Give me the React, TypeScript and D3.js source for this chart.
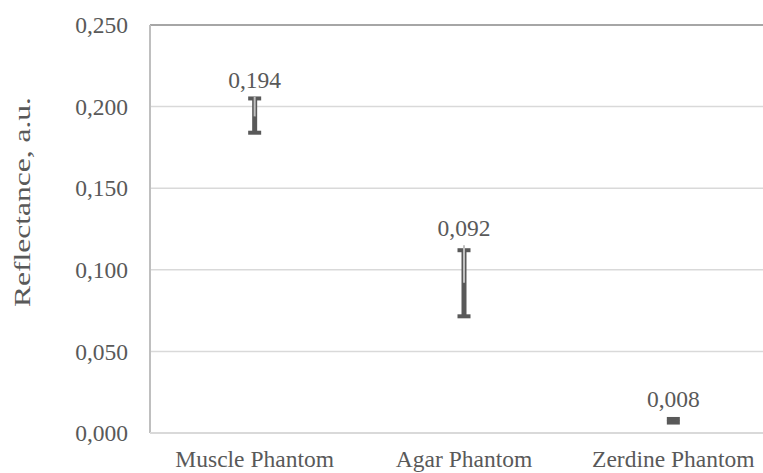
import React from 'react';
import * as d3 from 'd3';

const categories = ['Muscle Phantom', 'Agar Phantom', 'Zerdine Phantom'];
const means = [0.194, 0.092, 0.008];
const highs = [0.205, 0.112, 0.0086];
const lows = [0.184, 0.0715, 0.0064];
const uppers = [0.206, 0.115, 0.0105];
const yTicks = [0, 0.05, 0.1, 0.15, 0.2, 0.25];

const W = 763;
const H = 473;
const margin = { top: 25, left: 150, bottom: 40 };
const plotRight = 778; // plot area runs past the picture's right edge
const font = '"Liberation Serif", "Times New Roman", serif';
const fontSize = 23.5;
const textColor = '#595959';
const barColor = '#595959';

export default function App() {
  const innerH = H - margin.top - margin.bottom;

  const x = d3.scaleBand()
    .domain(categories)
    .range([margin.left, plotRight]);

  const y = d3.scaleLinear()
    .domain([0, 0.25])
    .range([margin.top + innerH, margin.top]);

  const fmt = (v: number) => d3.format('.3f')(v).replace('.', ',');
  const capW = 13;
  const capH = 4;
  const stemW = 5;

  return (
    <div style={{ position: 'absolute', left: 0, top: 0, width: W, height: H, overflow: 'hidden', background: '#fff' }}>
      <svg width={W} height={H} style={{ display: 'block' }}>
        {/* gridlines */}
        {yTicks.slice(1, -1).map(t => (
          <line key={t} x1={margin.left} x2={plotRight} y1={y(t)} y2={y(t)}
            stroke="#d9d9d9" strokeWidth={1.5} />
        ))}
        {/* plot area frame */}
        <line x1={margin.left} x2={plotRight} y1={y(0.25)} y2={y(0.25)} stroke="#a6a6a6" strokeWidth={2} />
        <line x1={margin.left} x2={margin.left} y1={y(0.25)} y2={y(0)} stroke="#bfbfbf" strokeWidth={2} />
        <line x1={margin.left} x2={plotRight} y1={y(0)} y2={y(0)} stroke="#d9d9d9" strokeWidth={2} />

        {/* y tick labels */}
        {yTicks.map(t => (
          <text key={t} x={margin.left - 22} y={y(t)} dy="0.35em" textAnchor="end"
            fontFamily={font} fontSize={fontSize} fill={textColor}>{fmt(t)}</text>
        ))}

        {/* y axis title */}
        <text transform={`translate(${22},${202}) rotate(-90)`} dy="0.35em"
          textAnchor="middle" fontFamily={font} fontSize={fontSize} fill={textColor}
          textLength={210} lengthAdjust="spacingAndGlyphs">Reflectance, a.u.</text>

        {/* x labels */}
        {categories.map(c => (
          <text key={c} x={x(c)! + x.bandwidth() / 2} y={y(0) + 34} textAnchor="middle"
            fontFamily={font} fontSize={fontSize} fill={textColor}>{c}</text>
        ))}

        {/* range bars */}
        {categories.map((c, i) => {
          const cx = x(c)! + x.bandwidth() / 2;
          return (
            <g key={c}>
              <rect x={cx - stemW / 2} y={y(highs[i])} width={stemW} height={y(lows[i]) - y(highs[i])} fill={barColor} />
              <rect x={cx - capW / 2} y={y(highs[i]) - capH / 2} width={capW} height={capH} fill={barColor} />
              <rect x={cx - capW / 2} y={y(lows[i]) - capH / 2} width={capW} height={capH} fill={barColor} />
              {i < 2 && (
                <line x1={cx} x2={cx} y1={y(uppers[i])} y2={y(means[i])} stroke="#bfbfbf" strokeWidth={2} />
              )}
              <text x={cx} y={y(Math.max(uppers[i], highs[i])) - 9} textAnchor="middle"
                fontFamily={font} fontSize={fontSize} fill={textColor}>{fmt(means[i])}</text>
            </g>
          );
        })}
      </svg>
    </div>
  );
}
